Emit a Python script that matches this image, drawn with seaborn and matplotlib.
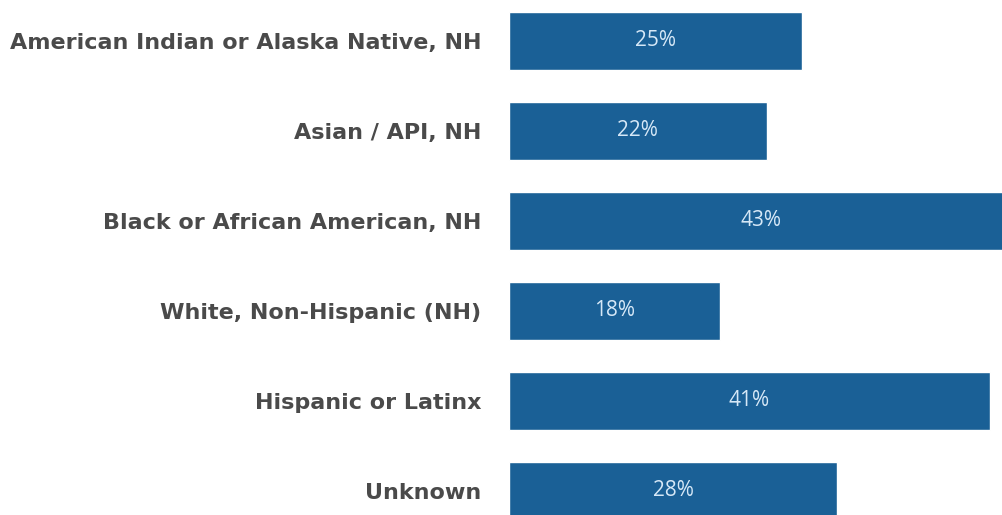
import matplotlib
matplotlib.use("Agg")
import matplotlib.pyplot as plt
import seaborn as sns
import pandas as pd

categories = ["American Indian or Alaska Native, NH", "Asian / API, NH",
              "Black or African American, NH", "White, Non-Hispanic (NH)",
              "Hispanic or Latinx", "Unknown"]
values = [25, 22, 43, 18, 41, 28]
value_labels = ["25%", "22%", "43%", "18%", "41%", "28%"]

df = pd.DataFrame({"group": categories, "pct": values})

sns.set_theme(style="white")
plt.rcParams["font.family"] = ["Open Sans", "DejaVu Sans"]

W, H = 1003, 515
fig = plt.figure(figsize=(W / 100, H / 100), dpi=100)
ax = fig.add_axes([509 / W, 0, 1 - 509 / W, 1])

sns.barplot(data=df, x="pct", y="group", orient="h", color="#1a6096",
            saturation=1, width=0.65, ax=ax)

px_per_pct = 11.72
ax.set_xlim(0, (W - 509) / px_per_pct)
ax.set_ylim((H - 41) / 90, -41 / 90)

for i, (v, lab) in enumerate(zip(values, value_labels)):
    ax.text(v / 2, i, lab, ha="center", va="center", color="#d6e8f7",
            fontsize=15, clip_on=False)

ax.set_xlabel("")
ax.set_ylabel("")
ax.set_xticks([])
ax.tick_params(axis="y", length=0, pad=20)
for t in ax.get_yticklabels():
    t.set_family("DejaVu Sans")
    t.set_fontweight("bold")
    t.set_fontsize(16)
    t.set_color("#4a4a4a")
for s in ax.spines.values():
    s.set_visible(False)

fig.savefig("out.png", dpi=100, facecolor="white")
